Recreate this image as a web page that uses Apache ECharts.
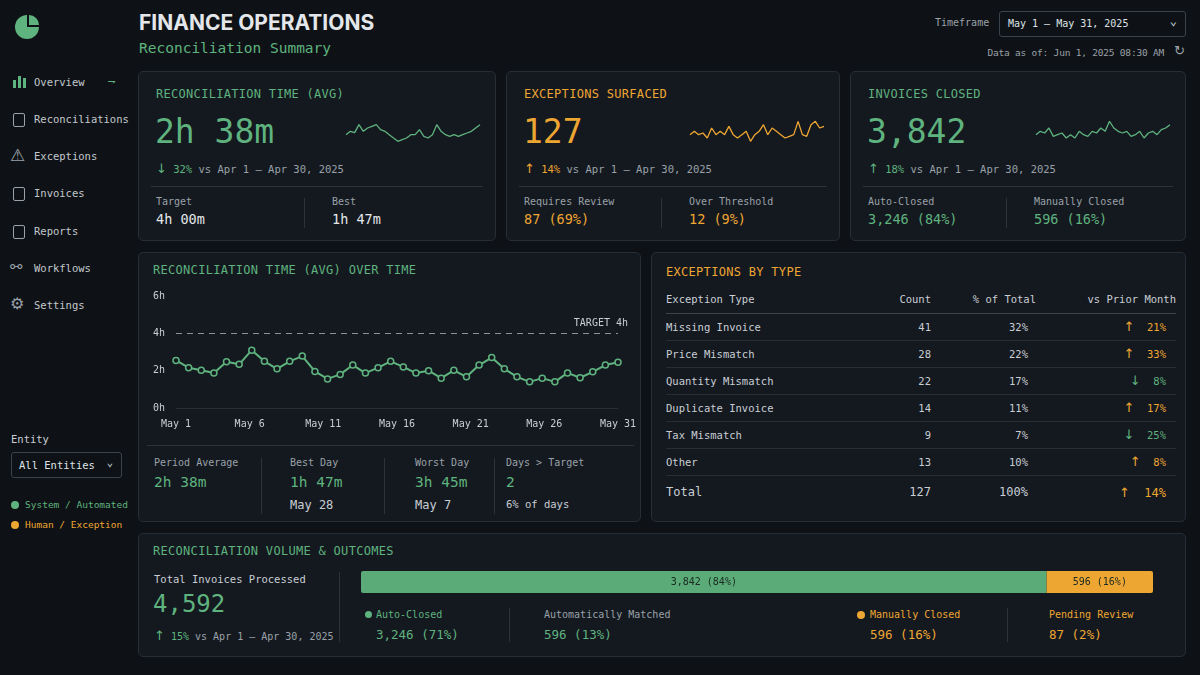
<!DOCTYPE html>
<html><head><meta charset="utf-8">
<script src="https://cdn.jsdelivr.net/npm/echarts@6/dist/echarts.min.js"></script>
<style>
*{box-sizing:border-box;margin:0;padding:0}
body{width:1200px;height:675px;background:#0e1216;color:#c9ced4;font-family:"DejaVu Sans Mono","Liberation Mono",monospace;position:relative;overflow:hidden;font-size:11px}
.a{position:absolute;white-space:nowrap}
.panel{position:absolute;background:#141920;border:1px solid #262d35;border-radius:5px}
.g{color:#5fb37e}.o{color:#eea632}.mut{color:#9aa1a8}.w{color:#e4e7ea}
.nav{position:absolute;left:34px;font-size:10.5px;color:#c3c8cd}
.ico{position:absolute;left:13px;width:12px;height:14px;border:1.5px solid #9aa1a8;border-radius:2px}
.ct{font-size:12px;letter-spacing:0.3px}
.big{font-size:33px}
.sub{font-size:10.5px}
.sep{position:absolute;background:#2b323a}
table{border-collapse:collapse;width:100%;font-size:10.5px}
td,th{height:27px;color:#c9ced4;font-weight:normal}
th{height:28px}
tr{border-bottom:1px solid #262d35}
.r{text-align:right}
.arr{font-size:13px;font-family:"DejaVu Sans",sans-serif}
</style></head><body>
<div id="page"></div>
<script>
// ---------- data ----------
const days = Array.from({length:31},(_,i)=>'May '+(i+1));
const reconHours = [2.55,2.16,2.02,1.88,2.48,2.34,3.1,2.5,2.1,2.5,2.78,1.96,1.56,1.8,2.3,1.87,2.16,2.5,2.2,1.87,2.0,1.6,2.02,1.67,2.3,2.7,2.1,1.67,1.4,1.6,1.4,1.88,1.62,1.94,2.3,2.45];
const targetHours = 4;
const sparkRecon = [3,4,3.6,6,4,5,5.5,6,4.5,4,3,2,1,1.5,2,3,3,4.5,2.5,2,3,6,4,3,2.5,3,2.5,3,3.5,4,5,6];
const sparkExc = [3,4,3,3.5,2,5,3,4,3,5.5,3,2,3,4,1,3,4,6,3,5,4,3,2,2.5,3,7,3,2.5,6,7,5,5.5];
const sparkInv = [3,4,3.5,5,2.5,3,3.5,2,3,2,4,3,2.5,4,3.5,5,4,7,5,4,3.5,4,2.5,3,4,2,3.5,4,3,4.5,5,6];
const excTypes = ['Missing Invoice','Price Mismatch','Quantity Mismatch','Duplicate Invoice','Tax Mismatch','Other'];
const excCounts = [41,28,22,14,9,13];
const excPct = ['32%','22%','17%','11%','7%','10%'];
const excChange = [21,33,-8,17,-25,8];
const volumeLabels = ['Auto / Matched','Manual'];
const volumeValues = [3842,596];
const volumeText = ['3,842 (84%)','596 (16%)'];
const green='#5fb37e', orange='#eea632';

// ---------- layout HTML ----------
const P = document.getElementById('page');
let h = '';
h += `<div class="a" style="left:15px;top:15px;width:24px;height:24px;border-radius:50%;background:${green}"></div>
<div class="a" style="left:27px;top:14px;width:13px;height:13px;background:#0e1216"></div>
<div class="a" style="left:29px;top:15px;width:10px;height:10px;border-top-right-radius:10px;background:${green}"></div>`;
const navs=['Overview','Reconciliations','Exceptions','Invoices','Reports','Workflows','Settings'];
const ny=[83,120,157,194,232,269,306];
navs.forEach((n,i)=>{
  if(i===0){h+=`<div class="a" style="left:13px;top:${ny[i]-3}px;width:3px;height:8px;background:${green}"></div><div class="a" style="left:18px;top:${ny[i]-7}px;width:3px;height:12px;background:${green}"></div><div class="a" style="left:23px;top:${ny[i]-5}px;width:3px;height:10px;background:${green}"></div>`;
   h+=`<div class="nav g" style="top:${ny[i]-7}px">${n}</div><div class="a g" style="left:108px;top:${ny[i]-10}px;font-size:13px">⇁</div>`;}
  else if(i===2){h+=`<div class="a mut" style="left:10px;top:${ny[i]-12}px;font-size:17px;font-family:'DejaVu Sans'">⚠</div><div class="nav" style="top:${ny[i]-7}px">${n}</div>`;}
  else if(i===5){h+=`<div class="a mut" style="left:10px;top:${ny[i]-11}px;font-size:15px;font-family:'DejaVu Sans'">⚯</div><div class="nav" style="top:${ny[i]-7}px">${n}</div>`;}
  else if(i===6){h+=`<div class="a mut" style="left:10px;top:${ny[i]-12}px;font-size:16px;font-family:'DejaVu Sans'">⚙</div><div class="nav" style="top:${ny[i]-7}px">${n}</div>`;}
  else {h+=`<div class="ico" style="top:${ny[i]-7}px"></div><div class="nav" style="top:${ny[i]-7}px">${n}</div>`;}
});
h+=`<div class="a" style="left:11px;top:433px;font-size:10.5px">Entity</div>
<div class="a" style="left:11px;top:452px;width:111px;height:26px;border:1px solid #3a424b;border-radius:3px;padding:6px 7px;color:#dfe3e6;font-size:10.5px">All Entities<span style="position:absolute;right:8px;top:3px">⌄</span></div>
<div class="a" style="left:11px;top:501px;width:8px;height:8px;border-radius:50%;background:${green}"></div><div class="a g" style="left:25px;top:499px;font-size:9.5px">System / Automated</div>
<div class="a" style="left:11px;top:521px;width:8px;height:8px;border-radius:50%;background:${orange}"></div><div class="a o" style="left:25px;top:519px;font-size:9.5px">Human / Exception</div>`;
h+=`<div class="a w" style="left:139px;top:10px;font-family:Inter,'Noto Sans',sans-serif;font-weight:700;font-size:21px">FINANCE OPERATIONS</div>
<div class="a g" style="left:139px;top:40px;font-size:14.5px">Reconciliation Summary</div>
<div class="a mut" style="left:935px;top:17px;font-size:10px">Timeframe</div>
<div class="a" style="left:999px;top:11px;width:187px;height:26px;border:1px solid #3a424b;border-radius:3px;padding:6px 8px;color:#dfe3e6;font-size:10px">May 1 – May 31, 2025<span style="position:absolute;right:8px;top:2px;font-size:12px">⌄</span></div>
<div class="a mut" style="right:36px;top:47px;font-size:9.5px;letter-spacing:-0.2px">Data as of: Jun 1, 2025 08:30 AM</div>
<div class="a mut" style="left:1174px;top:43px;font-size:13px;font-family:'DejaVu Sans'">↻</div>`;
function card(x,w,title,cls,val,chg,chgCls,arrow,l1,v1,l2,v2,vCls,id){
  return `<div class="panel" style="left:${x}px;top:71px;width:${w}px;height:170px">
  <div class="a ct ${cls}" style="left:17px;top:15px">${title}</div>
  <div class="a big ${cls}" style="left:16px;top:40px">${val}</div>
  <div id="${id}" class="a" style="left:${w-153}px;top:44px;width:138px;height:34px"></div>
  <div class="a sub" style="left:17px;top:89px"><span class="${chgCls}"><span class="arr">${arrow}</span> ${chg}</span> <span class="mut">vs Apr 1 – Apr 30, 2025</span></div>
  <div class="sep" style="left:12px;top:114px;width:${w-26}px;height:1px"></div>
  <div class="sep" style="left:${Math.round(w*0.46)}px;top:126px;width:1px;height:30px"></div>
  <div class="a mut" style="left:17px;top:124px;font-size:10px">${l1}</div>
  <div class="a ${vCls}" style="left:17px;top:139px;font-size:13.5px">${v1}</div>
  <div class="a mut" style="left:${Math.round(w*0.46)+28}px;top:124px;font-size:10px">${l2}</div>
  <div class="a ${vCls}" style="left:${Math.round(w*0.46)+28}px;top:139px;font-size:13.5px">${v2}</div></div>`;
}
h+=card(138,358,'RECONCILIATION TIME (AVG)','g','2h 38m','32%','g','↓','Target','4h 00m','Best','1h 47m','w','sp1');
h+=card(506,334,'EXCEPTIONS SURFACED','o','127','14%','o','↑','Requires Review','87 (69%)','Over Threshold','12 (9%)','o','sp2');
h+=card(850,336,'INVOICES CLOSED','g','3,842','18%','g','↑','Auto-Closed','3,246 (84%)','Manually Closed','596 (16%)','g','sp3');
h+=`<div class="panel" style="left:138px;top:252px;width:503px;height:270px">
<div class="a ct g" style="left:14px;top:10px">RECONCILIATION TIME (AVG) OVER TIME</div>
<div id="line" class="a" style="left:0;top:28px;width:503px;height:160px"></div>
<div class="sep" style="left:8px;top:192px;width:487px;height:1px"></div>
${[['Period Average','2h 38m',''],['Best Day','1h 47m','May 28'],['Worst Day','3h 45m','May 7'],['Days > Target','2','6% of days']].map((c,i)=>{
 const xs=[15,151,276,367];
 return `${i?`<div class="sep" style="left:${[0,122,245,355][i]}px;top:205px;width:1px;height:56px"></div>`:''}
 <div class="a mut" style="left:${xs[i]}px;top:204px;font-size:10px">${c[0]}</div>
 <div class="a g" style="left:${xs[i]}px;top:221px;font-size:14.5px">${c[1]}</div>
 <div class="a" style="left:${xs[i]}px;top:245px;font-size:${i==3?10.5:12}px;color:#c9ced4">${c[2]}</div>`}).join('')}
</div>`;
h+=`<div class="panel" style="left:651px;top:252px;width:535px;height:270px">
<div class="a ct o" style="left:14px;top:12px">EXCEPTIONS BY TYPE</div>
<div class="a" style="left:14px;top:32px;width:510px"><table>
<tr style="border-color:#3a424b"><th style="text-align:left">Exception Type</th><th class="r" style="width:70px">Count</th><th class="r" style="width:105px">% of Total</th><th class="r" style="width:140px">vs Prior Month</th></tr>
${excTypes.map((t,i)=>`<tr><td>${t}</td><td class="r">${excCounts[i]}</td><td class="r" style="padding-right:8px">${excPct[i]}</td><td class="r" style="padding-right:10px"><span class="${excChange[i]>0?'o':'g'}"><span class="arr">${excChange[i]>0?'↑':'↓'}</span>&nbsp;&nbsp;${Math.abs(excChange[i])}%</span></td></tr>`).join('')}
<tr style="border:none;border-top:1px solid #4a525b"><td style="font-size:12px;height:34px">Total</td><td class="r" style="font-size:12px">127</td><td class="r" style="font-size:12px;padding-right:8px">100%</td><td class="r o" style="font-size:12px;padding-right:10px"><span class="arr">↑</span>&nbsp;&nbsp;14%</td></tr>
</table></div></div>`;
h+=`<div class="panel" style="left:138px;top:533px;width:1048px;height:124px">
<div class="a ct g" style="left:14px;top:10px">RECONCILIATION VOLUME &amp; OUTCOMES</div>
<div class="a" style="left:15px;top:39px;font-size:10.5px;color:#c9ced4">Total Invoices Processed</div>
<div class="a g" style="left:14px;top:56px;font-size:24px">4,592</div>
<div class="a sub" style="left:15px;top:94px;font-size:10px"><span class="g"><span class="arr">↑</span> 15%</span> <span class="mut">vs Apr 1 – Apr 30, 2025</span></div>
<div class="sep" style="left:200px;top:38px;width:1px;height:70px"></div>
<div id="bar" class="a" style="left:218px;top:30px;width:822px;height:36px"></div>
<div class="a" style="left:226px;top:77px;width:7px;height:7px;border-radius:50%;background:${green}"></div>
<div class="a g" style="left:237px;top:75px;font-size:10px">Auto-Closed</div>
<div class="a g" style="left:237px;top:93px;font-size:12.5px">3,246 (71%)</div>
<div class="sep" style="left:370px;top:74px;width:1px;height:34px"></div>
<div class="a mut" style="left:405px;top:75px;font-size:10px">Automatically Matched</div>
<div class="a g" style="left:405px;top:93px;font-size:12.5px">596 (13%)</div>
<div class="a" style="left:718px;top:77px;width:8px;height:8px;border-radius:50%;background:${orange}"></div>
<div class="a o" style="left:731px;top:75px;font-size:10px">Manually Closed</div>
<div class="a o" style="left:731px;top:93px;font-size:12.5px">596 (16%)</div>
<div class="sep" style="left:868px;top:74px;width:1px;height:34px"></div>
<div class="a o" style="left:910px;top:75px;font-size:10px">Pending Review</div>
<div class="a o" style="left:910px;top:93px;font-size:12.5px">87 (2%)</div>
</div>`;
P.innerHTML=h;

function spark(id,data,color){
  const c=echarts.init(document.getElementById(id));
  c.setOption({animation:false,grid:{left:2,right:2,top:2,bottom:2},
    xAxis:{type:'category',show:false,boundaryGap:false,data:data.map((_,i)=>i)},
    yAxis:{type:'value',show:false,min:-1,max:8},
    series:[{type:'line',data,symbol:'none',lineStyle:{color,width:1.3}}]});
}
spark('sp1',sparkRecon,green);spark('sp2',sparkExc,orange);spark('sp3',sparkInv,green);

const lc=echarts.init(document.getElementById('line'));
const fnt={fontFamily:'DejaVu Sans Mono',fontSize:10,color:'#c9ced4'};
lc.setOption({animation:false,grid:{left:37,right:24,top:15,bottom:33},
  xAxis:[{type:'value',min:0,max:reconHours.length-1,show:false},
    {type:'category',position:'bottom',boundaryGap:false,data:days,axisTick:{show:false},
     axisLine:{lineStyle:{color:'#262d35'}},axisLabel:{...fnt,interval:4,margin:11}}],
  yAxis:{type:'value',min:0,max:6,interval:2,axisLine:{show:false},axisTick:{show:false},splitLine:{show:false},axisLabel:{...fnt,formatter:v=>v+'h',margin:23,align:'left'}},
  series:[{type:'line',xAxisIndex:0,data:reconHours.map((v,i)=>[i,v]),symbol:'circle',symbolSize:6,
    itemStyle:{color:'#141920',borderColor:green,borderWidth:1.5},lineStyle:{color:green,width:2},
    markLine:{silent:true,symbol:'none',data:[{yAxis:targetHours}],lineStyle:{color:'#8a9198',type:[6,5],width:1},
      label:{show:true,position:'insideEndTop',formatter:'TARGET 4h',...fnt,offset:[15,0]}}},
   {type:'line',xAxisIndex:1,data:[]}]});

const bc=echarts.init(document.getElementById('bar'));
bc.setOption({animation:false,grid:{left:4,right:26,top:7,bottom:7},
  xAxis:{type:'value',max:volumeValues[0]+volumeValues[1],show:false},
  yAxis:{type:'category',data:['v'],show:false},
  series:volumeValues.map((v,i)=>({type:'bar',stack:'s',name:volumeLabels[i],data:[v],barWidth:22,
    itemStyle:{color:i?orange:'#5aab78',borderRadius:i?[0,2,2,0]:[2,0,0,2]},
    label:{show:true,position:'inside',formatter:volumeText[i],fontFamily:'DejaVu Sans Mono',fontSize:10,color:'#1b2a20'}}))});
</script></body></html>
